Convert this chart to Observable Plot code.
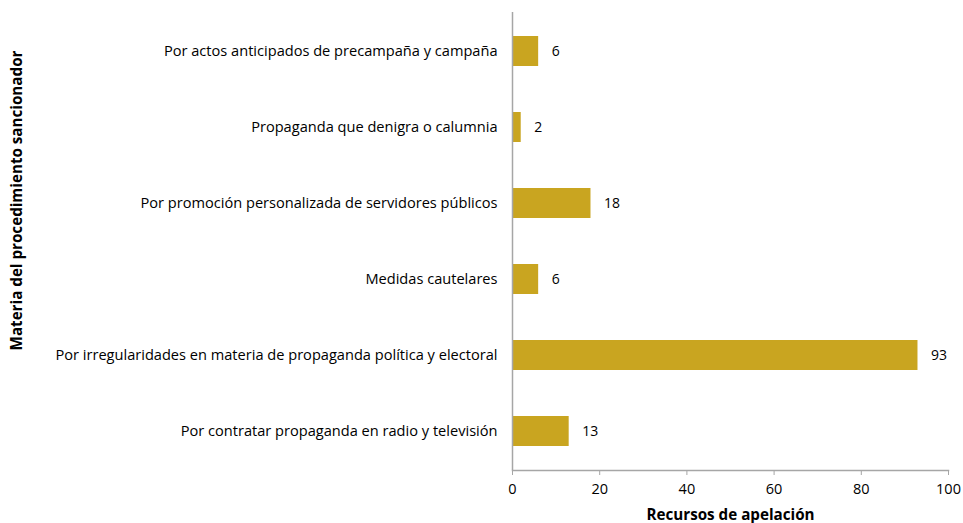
<!DOCTYPE html>
<html><head><meta charset="utf-8">
<script src="https://cdn.jsdelivr.net/npm/d3@7"></script>
<script src="https://cdn.jsdelivr.net/npm/@observablehq/plot@0.6"></script>
<style>body{margin:0;background:#fff;} svg{font-family:"Open Sans", Lato, sans-serif;}</style>
</head><body><div id="chart"></div>
<script>
const categories = [
  "Por actos anticipados de precampaña y campaña",
  "Propaganda que denigra o calumnia",
  "Por promoción personalizada de servidores públicos",
  "Medidas cautelares",
  "Por irregularidades en materia de propaganda política y electoral",
  "Por contratar propaganda en radio y televisión"
];
const values = [6, 2, 18, 6, 93, 13];
const xTicks = [0, 20, 40, 60, 80, 100];
const xTitle = "Recursos de apelación";
const yTitle = "Materia del procedimiento sancionador";

const data = categories.map((c, i) => ({category: c, value: values[i]}));

const chart = Plot.plot({
  width: 963,
  height: 523,
  marginLeft: 512,
  marginRight: 15,
  marginTop: 12,
  marginBottom: 53,
  style: {fontFamily: "'Open Sans', Lato, sans-serif", fontSize: "14.5px", color: "#000", background: "#fff"},
  x: {domain: [0, 100], ticks: xTicks},
  y: {domain: categories, paddingInner: 0.6, paddingOuter: 0.3},
  marks: [
    Plot.barX(data, {x: "value", y: "category", fill: "#C9A520"}),
    Plot.text(data, {x: "value", y: "category", text: d => String(d.value), textAnchor: "start", dx: 13, fontSize: 14, fill: "#000"}),
    Plot.axisY({tickSize: 0, tickPadding: 15, label: null, fontSize: 14.6}),
    Plot.axisX({ticks: xTicks, tickSize: 5, tickPadding: 8, stroke: "#a6a6a6", fontSize: 14.5, label: null}),
    Plot.ruleX([0], {stroke: "#a6a6a6", strokeWidth: 1.5}),
    Plot.frame({anchor: "bottom", stroke: "#a6a6a6", strokeWidth: 1.5}),
    Plot.text([xTitle], {frameAnchor: "bottom", dy: 49, text: d => d, fontWeight: "bold", fontSize: 15.2, textAnchor: "middle"}),
    Plot.text([yTitle], {frameAnchor: "left", dx: -495, dy: -41, rotate: -90, text: d => d, fontWeight: "bold", fontSize: 15.2, textAnchor: "middle"})
  ]
});
document.getElementById("chart").append(chart);
</script></body></html>
